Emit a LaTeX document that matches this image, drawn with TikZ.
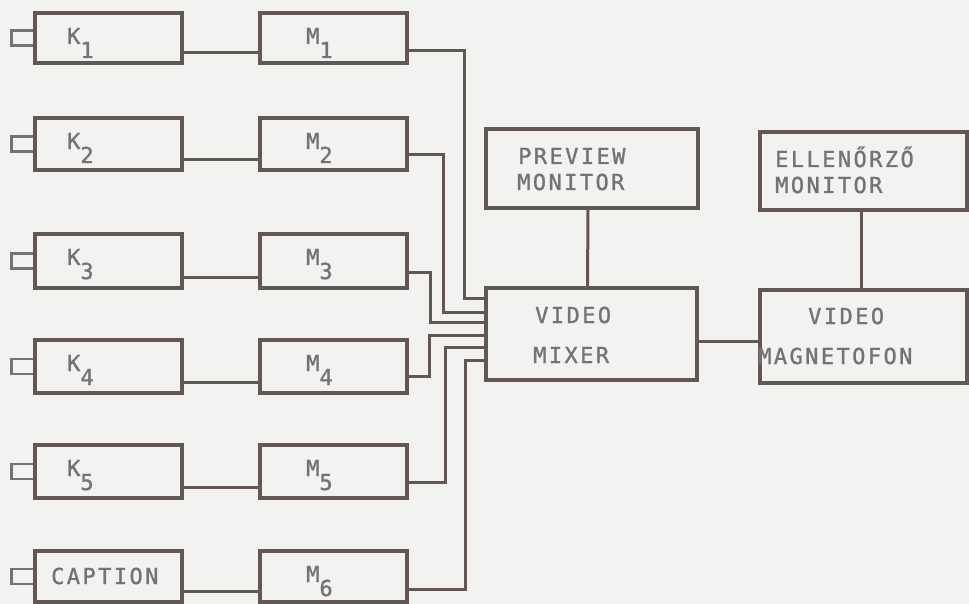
\documentclass[tikz,border=0pt]{standalone}
\usepackage{fontspec}
\newfontfamily\tw[LetterSpace=11,FakeBold=1.2]{DejaVu Sans Mono}
\definecolor{ink}{HTML}{655656}
\definecolor{txt}{HTML}{747272}
\definecolor{paper}{HTML}{F2F2F0}
\newcommand{\lab}[2]{#1\raisebox{-14pt}{#2}}
\begin{document}
\begin{tikzpicture}[x=1pt,y=-1pt,
  box/.style={draw=ink,line width=3.3pt,rectangle,inner sep=0pt},
  wire/.style={draw=ink,line width=3pt,line join=miter},
  plug/.style={draw=txt,line width=2.5pt},
  lbl/.style={anchor=base west,inner sep=0pt,text=txt,font=\tw\fontsize{22}{26}\selectfont}]
\fill[paper] (0,0) rectangle (969,604);
\useasboundingbox (0,0) rectangle (969,604);
% left column boxes
\foreach \i/\t/\b in {1/13/63,2/118/170,3/234/288,4/340/393,5/445/498,6/551/602}{
  \node[box,minimum width=147pt,minimum height={(\b-\t)*1pt}] (k\i) at (108.5,{(\t+\b)/2}) {};
  \node[box,minimum width=147pt,minimum height={(\b-\t)*1pt}] (m\i) at (333.5,{(\t+\b)/2}) {};
  \draw[plug] ([yshift=7.5pt]k\i.west) -- ++(-22,0) -- ++(0,15) -- ++(22,0);
  \draw[wire] ([yshift=12pt]k\i.south east) -- ([yshift=12pt]k\i.south east -| m\i.west);
}
% labels
\foreach \i/\t in {1/13,2/118,3/234,4/340,5/445}{
  \node[lbl] (kl\i) at (67,\t+31) {\lab{K}{\i}};
}
\foreach \i/\t in {1/13,2/118,3/234,4/340,5/445,6/551}{
  \node[lbl] (ml\i) at (306,\t+31) {\lab{M}{\i}};
}
\node[lbl] (cap) at (51,584) {CAPTION};
% right boxes
\node[box,minimum width=212pt,minimum height=79pt] (pm) at (592,168.5) {};
\node[box,minimum width=211pt,minimum height=92pt] (mx) at (591.5,334) {};
\node[box,minimum width=207pt,minimum height=78pt] (em) at (863.5,171) {};
\node[box,minimum width=207pt,minimum height=93pt] (vm) at (863.5,336.5) {};
\node[lbl] (pm1) at (518,164) {PREVIEW};
\node[lbl] (pm2) at (517,190) {MONITOR};
\node[lbl] (mx1) at (535,323) {VIDEO};
\node[lbl] (mx2) at (533,363) {MIXER};
\node[lbl] (em1) at (775,167) {ELLENŐRZŐ};
\node[lbl] (em2) at (775,193) {MONITOR};
\node[lbl] (vm1) at (808,324) {VIDEO};
\node[lbl] (vm2) at (758,364) {MAGNETOFON};
% bend points
\coordinate (a1) at (464,51);  \coordinate (b1) at (464,298);
\coordinate (a2) at (443,155); \coordinate (b2) at (443,312);
\coordinate (a3) at (430,272); \coordinate (b3) at (430,322);
\coordinate (a4) at (429,376); \coordinate (b4) at (429,335);
\coordinate (a5) at (445,482); \coordinate (b5) at (445,347);
\coordinate (a6) at (465,589); \coordinate (b6) at (465,360);
\foreach \i in {1,...,6}{
  \draw[wire] (m\i.east |- a\i) -- (a\i) -- (b\i) -- (mx.west |- b\i);
}
\draw[wire] ([xshift=-4pt]pm.south) -- ([xshift=-4pt]mx.north);
\draw[wire] ([xshift=-2pt]em.south) -- ([xshift=-2pt]vm.north);
\coordinate (c1) at (700,341);
\draw[wire] (mx.east |- c1) -- (vm.west |- c1);
\end{tikzpicture}
\end{document}
